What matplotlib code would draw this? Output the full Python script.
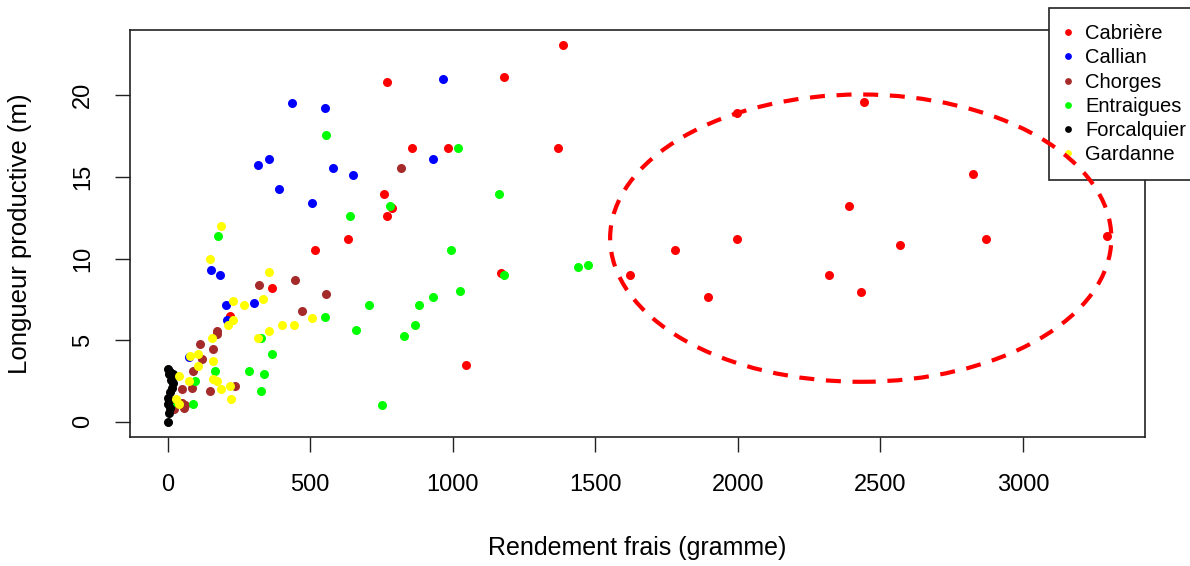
import matplotlib
matplotlib.use("Agg")
import matplotlib.pyplot as plt
from matplotlib.patches import Ellipse

plt.rcParams['font.family'] = ['Liberation Sans', 'DejaVu Sans']

# Rendement frais (g) / Longueur productive (m) par site
cabriere_x = [1387, 770, 1179, 857, 984, 1370, 758, 788, 770, 632, 516, 1779, 1168, 1622,
              367, 217, 1047, 2443, 1998, 2823, 2390, 1998, 1894, 2321, 2431, 2570, 2870, 3296]
cabriere_y = [23.1, 20.8, 21.1, 16.75, 16.75, 16.8, 13.95, 13.1, 12.6, 11.2, 10.5, 10.5, 9.1, 9.0,
              8.2, 6.5, 3.5, 19.6, 18.9, 15.2, 13.2, 11.2, 7.65, 9.0, 7.95, 10.8, 11.2, 11.4]

callian_x = [965, 436, 552, 932, 580, 650, 354, 316, 390, 505, 153, 182, 206, 304, 209, 74]
callian_y = [21.0, 19.5, 19.2, 16.1, 15.55, 15.1, 16.1, 15.75, 14.25, 13.4, 9.3, 9.0, 7.15, 7.25, 6.25, 4.0]

chorges_x = [817, 448, 557, 471, 320, 172, 172, 113, 160, 119, 90, 50, 85, 235, 148, 62, 22, 52, 57]
chorges_y = [15.55, 8.7, 7.8, 6.8, 8.4, 5.55, 5.35, 4.75, 4.45, 3.85, 3.1, 2.0, 2.1, 2.2, 1.9, 1.0, 0.8,
             1.15, 0.85]

entraigues_x = [557, 1018, 1162, 780, 638, 176, 995, 1179, 1439, 1474, 706, 880, 932, 1024, 552,
                662, 829, 869, 327, 367, 166, 97, 286, 338, 327, 753, 90, 22]
entraigues_y = [17.55, 16.75, 13.95, 13.2, 12.6, 11.4, 10.5, 9.0, 9.5, 9.6, 7.15, 7.15, 7.65, 8.0, 6.45,
                5.65, 5.25, 5.95, 5.15, 4.15, 3.1, 2.5, 3.1, 2.95, 1.9, 1.0, 1.1, 1.2]

forcalquier_x = [2, 10, 5, 15, 20, 14, 10, 3, 6, 2, 8, 4, 1, 18, 12]
forcalquier_y = [3.25, 3.05, 2.9, 2.7, 2.4, 2.1, 1.8, 1.45, 1.3, 1.1, 0.85, 0.55, 0.0, 2.95, 2.55]

gardanne_x = [188, 147, 355, 229, 269, 333, 505, 229, 211, 402, 442, 355, 154, 316, 80, 108, 108,
              160, 40, 74, 160, 172, 188, 217, 223, 28, 40]
gardanne_y = [12.0, 10.0, 9.2, 7.4, 7.15, 7.55, 6.35, 6.25, 5.95, 5.95, 5.95, 5.55, 5.15, 5.15, 4.05,
              4.15, 3.4, 3.7, 2.8, 2.5, 2.6, 2.5, 2.0, 2.2, 1.4, 1.4, 1.1]

sites = ['Cabrière', 'Callian', 'Chorges', 'Entraigues', 'Forcalquier', 'Gardanne']
couleurs = ['#FF0000', '#0000FF', '#A52A2A', '#00FF00', '#000000', '#FFFF00']
donnees = [(cabriere_x, cabriere_y), (callian_x, callian_y), (chorges_x, chorges_y),
           (entraigues_x, entraigues_y), (forcalquier_x, forcalquier_y), (gardanne_x, gardanne_y)]

# ellipse autour du groupe à fort rendement
ell_centre = (2431, 11.25)
ell_largeur = 1758
ell_hauteur = 17.6

fig = plt.figure(figsize=(11.9, 5.66), dpi=100)
ax = fig.add_axes([130 / 1190, 1 - 437 / 566, 1015 / 1190, 407 / 566])

for nom, c, (xs, ys) in zip(sites, couleurs, donnees):
    ax.plot(xs, ys, 'o', color=c, markersize=6.5, markeredgewidth=0, label=nom, zorder=2)

ax.add_patch(Ellipse(ell_centre, ell_largeur, ell_hauteur, fill=False, edgecolor='#FF0000',
                     linewidth=3, linestyle=(0, (3.6, 2.8)), zorder=6))

ax.set_xlim(-132, 3428)
ax.set_ylim(-0.93, 24.0)
ax.set_xticks([0, 500, 1000, 1500, 2000, 2500, 3000])
ax.set_yticks([0, 5, 10, 15, 20])
ax.set_yticklabels(['0', '5', '10', '15', '20'], rotation=90, va='center')
ax.tick_params(axis='both', length=10.8, width=1, labelsize=17, color='#222222')
ax.tick_params(axis='x', pad=16)
ax.tick_params(axis='y', pad=15)
for s in ax.spines.values():
    s.set_linewidth(1.2)
    s.set_color('#222222')

ax.set_xlabel('Rendement frais (gramme)', fontsize=18)
ax.xaxis.set_label_coords(0.5, -0.273)
ax.xaxis.label.set_va('center')
ax.set_ylabel('Longueur productive (m)', fontsize=18.5)
ax.yaxis.set_label_coords(-0.108, 0.5)
ax.yaxis.label.set_va('center')

leg = ax.legend(loc='upper left', bbox_to_anchor=(1049 / 1190, 1 - 8 / 566),
                bbox_transform=fig.transFigure, fontsize=14.5, frameon=True, fancybox=False,
                edgecolor='#222222', framealpha=1, borderpad=0.8, labelspacing=0.26,
                handlelength=0.3, handletextpad=0.7, markerscale=0.75, borderaxespad=0)
leg.get_frame().set_linewidth(1.2)
leg.set_zorder(5)

fig.savefig('out.png', dpi=100)
